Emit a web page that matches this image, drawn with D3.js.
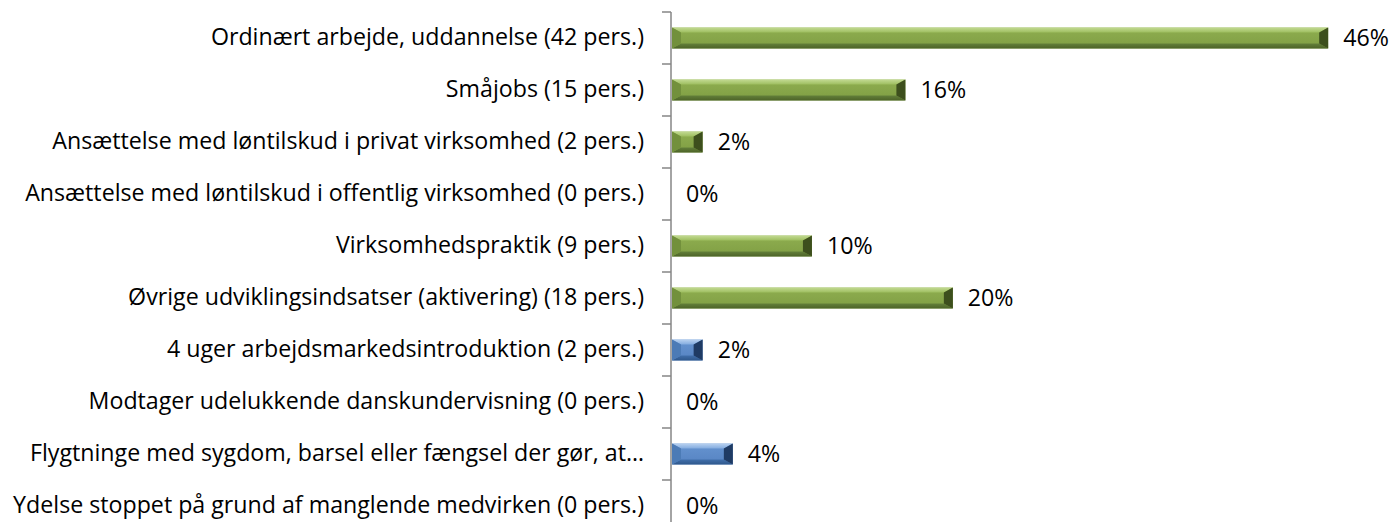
<!DOCTYPE html>
<html>
<head>
<meta charset="utf-8">
<script src="https://cdn.jsdelivr.net/npm/d3@7"></script>
<style>
  body { margin: 0; background: #fff; }
  text { font-family: "Open Sans", "Liberation Sans", sans-serif; fill: #000; }
</style>
</head>
<body>
<div id="chart"></div>
<script>
// categories (top to bottom) and their shares
var categories = [
  "Ordinært arbejde, uddannelse (42 pers.)",
  "Småjobs (15 pers.)",
  "Ansættelse med løntilskud i privat virksomhed (2 pers.)",
  "Ansættelse med løntilskud i offentlig virksomhed (0 pers.)",
  "Virksomhedspraktik (9 pers.)",
  "Øvrige udviklingsindsatser (aktivering) (18 pers.)",
  "4 uger arbejdsmarkedsintroduktion (2 pers.)",
  "Modtager udelukkende danskundervisning (0 pers.)",
  "Flygtninge med sygdom, barsel eller fængsel der gør, at…",
  "Ydelse stoppet på grund af manglende medvirken (0 pers.)"
];
var shares = [0.457, 0.163, 0.022, 0, 0.098, 0.196, 0.022, 0, 0.043, 0];
var groups = ["job", "job", "job", "job", "job", "job", "other", "other", "other", "other"];

var margin = { top: 12, left: 671 };
var width = 1390, height = 522;
var fontSize = '23.2px';

var svg = d3.select('#chart')
  .append('svg')
  .attr('width', width)
  .attr('height', height);

var palette = {
  job:   { top: ['#c2da92', '#9dbd5e'], mid: ['#8fae50', '#7f9e43'], bot: ['#63803a', '#4d6428'], left: '#72903c', right: '#3d4f1d' },
  other: { top: ['#b8d1f0', '#82abdf'], mid: ['#6694d0', '#5683c2'], bot: ['#416fab', '#2f588c'], left: '#4c7bb6', right: '#1f3b64' }
};

var defs = svg.append('defs');
Object.keys(palette).forEach(function (k) {
  ['top', 'mid', 'bot'].forEach(function (part) {
    var g = defs.append('linearGradient')
      .attr('id', k + '-' + part)
      .attr('x1', 0).attr('y1', 0).attr('x2', 0).attr('y2', 1);
    g.append('stop').attr('offset', '0%').attr('stop-color', palette[k][part][0]);
    g.append('stop').attr('offset', '100%').attr('stop-color', palette[k][part][1]);
  });
});

// scales
var x = d3.scaleLinear()
  .domain([0, 0.5])
  .range([0, 719]);

var y = d3.scaleBand()
  .domain(categories)
  .range([0, 520])
  .paddingInner(0.6)
  .paddingOuter(0.3);

var plot = svg.append('g')
  .attr('transform', `translate(${margin.left},${margin.top})`);

// y axis with category labels
var yAxis = plot.append('g')
  .call(d3.axisLeft(y).tickSize(0).tickPadding(27));
yAxis.select('.domain').remove();
yAxis.selectAll('text')
  .style('font-size', fontSize)
  .style('font-family', '"Open Sans", "Liberation Sans", sans-serif')
  .attr('fill', '#000');

// axis line and boundary ticks
var step = y.step();
plot.append('line')
  .attr('x1', 0).attr('x2', 0)
  .attr('y1', 0).attr('y2', 520)
  .attr('stroke', '#868686')
  .attr('stroke-width', 1.5);

plot.append('g')
  .selectAll('line')
  .data(d3.range(categories.length + 1))
  .enter()
  .append('line')
  .attr('x1', -9).attr('x2', 0)
  .attr('y1', function (i) { return i * step; })
  .attr('y2', function (i) { return i * step; })
  .attr('stroke', '#868686')
  .attr('stroke-width', 1.5);

// bevelled bars
var rows = categories.map(function (c, i) { return { cat: c, v: shares[i], g: groups[i] }; });

var bars = plot.append('g')
  .selectAll('g')
  .data(rows.filter(function (d) { return d.v > 0; }))
  .enter()
  .append('g');

function facet(d, which) {
  var x0 = x(0) + 1, x1 = x(d.v);
  var y0 = y(d.cat), y1 = y(d.cat) + y.bandwidth();
  var bx = Math.min(9, (x1 - x0) / 2), by = 5;
  var pts;
  if (which === 'top') pts = [[x0, y0], [x1, y0], [x1 - bx, y0 + by], [x0 + bx, y0 + by]];
  if (which === 'bot') pts = [[x0 + bx, y1 - by], [x1 - bx, y1 - by], [x1, y1], [x0, y1]];
  if (which === 'left') pts = [[x0, y0], [x0 + bx, y0 + by], [x0 + bx, y1 - by], [x0, y1]];
  if (which === 'right') pts = [[x1, y0], [x1, y1], [x1 - bx, y1 - by], [x1 - bx, y0 + by]];
  return pts.map(function (p) { return p.join(','); }).join(' ');
}

bars.append('rect')
  .attr('x', x(0) + 1)
  .attr('y', function (d) { return y(d.cat); })
  .attr('width', function (d) { return x(d.v) - x(0) - 1; })
  .attr('height', y.bandwidth())
  .attr('fill', function (d) { return 'url(#' + d.g + '-mid)'; });

bars.append('polygon')
  .attr('points', function (d) { return facet(d, 'top'); })
  .attr('fill', function (d) { return 'url(#' + d.g + '-top)'; });
bars.append('polygon')
  .attr('points', function (d) { return facet(d, 'bot'); })
  .attr('fill', function (d) { return 'url(#' + d.g + '-bot)'; });
bars.append('polygon')
  .attr('points', function (d) { return facet(d, 'left'); })
  .attr('fill', function (d) { return palette[d.g].left; });
bars.append('polygon')
  .attr('points', function (d) { return facet(d, 'right'); })
  .attr('fill', function (d) { return palette[d.g].right; });

// value labels
plot.append('g')
  .selectAll('text')
  .data(rows)
  .enter()
  .append('text')
  .attr('x', function (d) { return x(d.v) + 15; })
  .attr('y', function (d) { return y(d.cat) + y.bandwidth() / 2; })
  .attr('dy', '0.35em')
  .style('font-size', fontSize)
  .text(function (d) { return d3.format('.0%')(d.v); });
</script>
</body>
</html>
